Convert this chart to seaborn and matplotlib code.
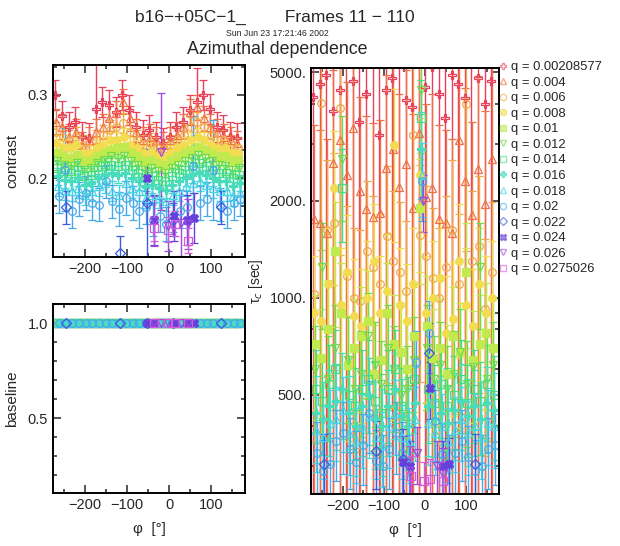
import numpy as np
import pandas as pd
import matplotlib
matplotlib.use("Agg")
import matplotlib.pyplot as plt
import seaborn as sns
from matplotlib.lines import Line2D
from matplotlib.ticker import MultipleLocator, FixedLocator, FixedFormatter, NullFormatter, LogLocator

nan = np.nan

# ---------------- data ----------------
phi = [-265, -249, -233, -217, -201, -185, -169, -153, -137, -121, -105, -89, -73, -57,
       -41, -25, -9, 7, 23, 39, 55, 71, 87, 103, 119, 135, 151, 167]

q_labels = ["0.00208577", "0.004", "0.006", "0.008", "0.01", "0.012", "0.014",
            "0.016", "0.018", "0.02", "0.022", "0.024", "0.026", "0.0275026"]

contrast_q0 = [0.300, 0.275, 0.262, 0.268, 0.250, 0.248, 0.283, 0.292, 0.288, 0.280, 0.300, 0.282, 0.262, 0.252,
               0.258, 0.250, 0.242, 0.250, 0.262, 0.268, 0.282, 0.292, 0.300, 0.283, 0.262, 0.258, 0.250, 0.248]
contrast_q1 = [0.268, 0.262, 0.250, 0.256, 0.240, 0.246, 0.256, 0.262, 0.272, 0.278, 0.292, 0.272, 0.256, 0.246,
               0.250, 0.246, 0.240, 0.246, 0.252, 0.262, 0.280, 0.285, 0.272, 0.262, 0.256, 0.250, 0.246, 0.242]
contrast_q2 = [0.255, 0.250, 0.246, 0.250, 0.240, 0.236, 0.246, 0.252, 0.258, 0.262, 0.266, 0.256, 0.246, 0.240,
               0.242, 0.236, 0.235, 0.240, 0.246, 0.252, 0.262, 0.268, 0.262, 0.252, 0.246, 0.246, 0.240, 0.236]
contrast_q3 = [0.242, 0.238, 0.236, 0.240, 0.230, 0.230, 0.236, 0.240, 0.246, 0.246, 0.250, 0.240, 0.236, 0.230,
               0.232, 0.226, 0.226, 0.230, 0.236, 0.240, 0.246, 0.250, 0.246, 0.240, 0.236, 0.236, 0.230, 0.230]
contrast_q4 = [0.230, 0.226, 0.224, 0.228, 0.220, 0.222, 0.226, 0.230, 0.234, 0.236, 0.238, 0.230, 0.226, 0.220,
               0.222, 0.218, 0.216, 0.222, 0.226, 0.230, 0.234, 0.238, 0.234, 0.230, 0.226, 0.226, 0.220, 0.222]
contrast_q5 = [0.220, 0.216, 0.214, 0.218, 0.210, 0.212, 0.218, 0.222, 0.226, 0.224, 0.226, 0.220, 0.216, 0.210,
               0.212, 0.208, 0.206, 0.212, 0.216, 0.220, 0.224, 0.228, 0.224, 0.220, 0.216, 0.214, 0.210, 0.212]
contrast_q6 = [0.212, 0.208, 0.206, 0.210, 0.202, 0.204, 0.210, 0.214, 0.216, 0.214, 0.216, 0.210, 0.206, 0.200,
               0.202, 0.198, 0.196, 0.202, 0.206, 0.210, 0.214, 0.218, 0.214, 0.210, 0.206, 0.206, 0.200, 0.204]
contrast_q7 = [0.202, 0.198, 0.196, 0.200, 0.192, 0.194, 0.200, 0.204, 0.206, 0.204, 0.206, 0.200, 0.196, 0.190,
               0.192, 0.188, 0.186, 0.192, 0.196, 0.200, 0.204, 0.206, 0.204, 0.200, 0.196, 0.196, 0.190, 0.194]
contrast_q8 = [0.190, 0.186, 0.184, 0.188, 0.180, 0.184, 0.190, 0.194, 0.184, 0.180, 0.194, 0.188, 0.184, 0.176,
               0.180, 0.176, 0.172, 0.180, 0.184, 0.190, 0.194, 0.196, 0.192, 0.188, 0.184, 0.184, 0.178, 0.182]
contrast_q9 = [0.178, 0.210, 0.160, 0.175, 0.182, 0.170, 0.168, 0.196, 0.172, 0.163, 0.176, 0.170, 0.160, 0.165,
               0.150, 0.155, 0.145, 0.155, 0.160, 0.165, 0.215, 0.170, 0.175, 0.210, 0.168, 0.160, 0.170, 0.175]
contrast_q10 = [nan, 0.165, nan, nan, nan, nan, nan, nan, nan, 0.110, nan, nan, nan, 0.170,
                nan, nan, nan, 0.150, nan, nan, nan, nan, nan, nan, 0.165, nan, nan, nan]
contrast_q11 = [nan, nan, nan, nan, nan, nan, nan, nan, nan, nan, nan, nan, nan, 0.200,
                0.150, nan, nan, 0.155, nan, 0.150, 0.152, nan, nan, nan, nan, nan, nan, nan]
contrast_q12 = [nan, nan, nan, nan, nan, nan, nan, nan, nan, nan, nan, nan, nan, nan,
                0.148, 0.232, 0.142, nan, 0.146, 0.145, nan, nan, nan, nan, nan, nan, nan, nan]
contrast_q13 = [nan, nan, nan, nan, nan, nan, nan, nan, nan, nan, nan, nan, nan, nan,
                0.140, nan, 0.138, 0.145, nan, 0.125, nan, nan, nan, nan, nan, nan, nan, nan]

tau_q0 = [4200, 4600, 4900, 3800, 4400, 5600, 4700, 3500, 4300, 5800, 3200, 4400, 4800, 5500,
          4100, 3900, 6000, 4500, 5200, 4300, 3600, 4900, 4600, 4150, 5300, 4800, 4000, 4700]
tau_q1 = [1760, 1700, 1590, 2610, 3080, 2400, 3350, 2150, 1880, 1780, 1830, 2520, 2900, 2200,
          2600, 1900, 3250, 2050, 2190, 1760, 1700, 1590, 3080, 2300, 1800, 2500, 1950, 2700]
tau_q2 = [1030, 4030, 1620, 1700, 3890, 1170, 1000, 980, 1400, 1250, 1100, 1550, 1300, 1200,
          1050, 3200, 1560, 1350, 1150, 1000, 1250, 1620, 1100, 4000, 1300, 1450, 920, 1200]
tau_q3 = [900, 850, 1100, 2190, 950, 1200, 880, 820, 1000, 1300, 900, 1050, 2970, 950,
          850, 1100, 2400, 900, 1000, 1150, 780, 860, 1300, 950, 820, 1100, 900, 1000]
tau_q4 = [720, 650, 800, 1400, 900, 620, 700, 760, 850, 580, 640, 900, 720, 680,
          600, 760, 1900, 820, 650, 700, 580, 760, 680, 1200, 640, 720, 780, 700]
tau_q5 = [600, 1250, 560, 700, 2700, 640, 520, 580, 760, 620, 540, 700, 600, 500,
          520, 640, 4400, 700, 560, 620, 520, 580, 680, 540, 610, 1250, 560, 620]
tau_q6 = [520, 480, 540, 600, 2190, 500, 460, 520, 560, 480, 440, 520, 600, 460,
          430, 560, 3600, 520, 470, 540, 460, 500, 560, 470, 520, 480, 540, 500]
tau_q7 = [440, 420, 460, 480, 520, 440, 400, 460, 500, 420, 400, 460, 520, 430,
          400, 470, 2900, 460, 420, 440, 410, 450, 480, 430, 460, 420, 470, 450]
tau_q8 = [390, 370, 410, 420, 450, 380, 360, 400, 430, 370, 350, 400, 440, 370,
          360, 420, 2400, 410, 380, 400, 360, 390, 420, 380, 400, 370, 410, 400]
tau_q9 = [330, 290, 305, 360, 380, 340, 310, 350, 440, 312, 300, 340, 380, 330,
          300, 630, 2300, 780, 415, 328, 300, 330, 360, 320, 290, 300, 340, 350]
tau_q10 = [nan, 305, nan, nan, nan, nan, nan, nan, nan, 335, nan, nan, nan, 316,
           nan, nan, nan, 675, nan, nan, nan, nan, nan, nan, 305, nan, nan, nan]
tau_q11 = [nan, nan, nan, nan, nan, nan, nan, nan, nan, nan, nan, nan, nan, 310,
           300, nan, nan, 525, nan, 300, 305, nan, nan, nan, nan, nan, nan, nan]
tau_q12 = [nan, nan, nan, nan, nan, nan, nan, nan, nan, nan, nan, nan, nan, nan,
           290, 330, 2000, nan, 300, 285, nan, nan, nan, nan, nan, nan, nan, nan]
tau_q13 = [nan, nan, nan, nan, nan, nan, nan, nan, nan, nan, nan, nan, nan, nan,
           280, nan, 270, 275, nan, 270, nan, nan, nan, nan, nan, nan, nan, nan]

baseline = [1.000, 0.999, 1.001, 1.000, 0.999, 1.000, 1.001, 1.000, 0.999, 1.000, 1.000, 1.001, 0.999, 1.000,
            1.000, 0.999, 1.000, 1.001, 1.000, 0.999, 1.000, 1.000, 1.001, 1.000, 0.999, 1.000, 1.000, 1.001]

contrast_err = [0.018, 0.015, 0.012, 0.010, 0.010, 0.010, 0.010, 0.010, 0.012, 0.020, 0.020, 0.030, 0.030, 0.015]
contrast_big_err = {(0, 6): 0.06, (0, 21): 0.04, (9, 1): 0.05, (9, 20): 0.06, (9, 23): 0.06,
                    (10, 13): 0.065, (12, 15): 0.07, (12, 18): 0.04}
tau_relerr = [1.3, 0.95, 0.65, 0.5, 0.42, 0.36, 0.32, 0.3, 0.26, 0.25, 0.24, 0.2, 0.2, 0.15]

contrast_all = [contrast_q0, contrast_q1, contrast_q2, contrast_q3, contrast_q4, contrast_q5, contrast_q6,
                contrast_q7, contrast_q8, contrast_q9, contrast_q10, contrast_q11, contrast_q12, contrast_q13]
tau_all = [tau_q0, tau_q1, tau_q2, tau_q3, tau_q4, tau_q5, tau_q6,
           tau_q7, tau_q8, tau_q9, tau_q10, tau_q11, tau_q12, tau_q13]

# ---------------- style ----------------
colors = sns.color_palette(["#e8405a", "#f07048", "#f0a848", "#f2dc50", "#c0ea50", "#70dc48", "#48dc80",
                            "#48dcbc", "#48d4e4", "#48a8ea", "#3c5cdc", "#6640dc", "#a048dc", "#d858dc"])
markers = ["P", "^", "o", "o", "s", "v", "s", "P", "^", "o", "D", "X", "v", "s"]
filled = [False, False, False, True, True, False, False, True, False, False, False, True, False, False]
dodge = np.linspace(-6, 6, 14)

rows = []
for i in range(14):
    for j, p in enumerate(phi):
        rows.append(dict(series=i, phi=p, contrast=contrast_all[i][j], tau=tau_all[i][j],
                         baseline=baseline[j],
                         cerr=contrast_big_err.get((i, j), contrast_err[i])))
df = pd.DataFrame(rows)

sns.set_style("ticks")
plt.rcParams["font.family"] = ["Liberation Sans", "DejaVu Sans"]
plt.rcParams["axes.linewidth"] = 1.4

fig = plt.figure(figsize=(6.2, 5.46), dpi=100)
ax1 = fig.add_axes([0.0855, 0.529, 0.3095, 0.352])
ax2 = fig.add_axes([0.0855, 0.097, 0.3095, 0.346])
ax3 = fig.add_axes([0.502, 0.095, 0.303, 0.78])

for i in range(14):
    d = df[df.series == i]
    d_c = d.dropna(subset=["contrast"])
    x = d_c.phi + dodge[i]
    c = colors[i]
    mfc = c if filled[i] else "none"
    kw = dict(fmt=markers[i], color=c, mec=c, mfc=mfc, ms=5.5, mew=0.9,
              elinewidth=1.0, capsize=2.6, capthick=1.0, ls="none")
    ax1.errorbar(x, d_c.contrast, yerr=d_c.cerr, **kw)
    ax2.errorbar(x, d_c.baseline, yerr=0.004, **kw)
    d_t = d.dropna(subset=["tau"])
    xt = d_t.phi + dodge[i]
    err = d_t.tau * tau_relerr[i]
    low = np.minimum(err, d_t.tau - 1)
    ax3.errorbar(xt, d_t.tau, yerr=[low, err], **kw)

tick_kw = dict(direction="in", top=True, right=True, labelsize=10.5, width=1.1)
for ax in (ax1, ax2, ax3):
    ax.set_xlim(-276, 180)
    ax.xaxis.set_major_locator(FixedLocator([-200, -100, 0, 100]))
    ax.xaxis.set_minor_locator(MultipleLocator(50))
    ax.tick_params(which="major", length=6, **tick_kw)
    ax.tick_params(which="minor", length=3, **tick_kw)
    for s in ax.spines.values():
        s.set_color("black")
    ax.set_xticklabels(["\u2212200", "\u2212100", "0", "100"])

ax1.set_ylim(0.105, 0.336)
ax1.yaxis.set_major_locator(FixedLocator([0.2, 0.3]))
ax1.yaxis.set_minor_locator(MultipleLocator(0.1 / 3))
ax1.set_yticklabels(["0.2", "0.3"])
ax1.set_ylabel("contrast", fontsize=11, labelpad=6)

ax2.set_ylim(0.105, 1.1)
ax2.yaxis.set_major_locator(FixedLocator([0.5, 1.0]))
ax2.yaxis.set_minor_locator(MultipleLocator(0.1))
ax2.set_yticklabels(["0.5", "1.0"])
ax2.set_ylabel("baseline", fontsize=11, labelpad=6)
ax2.set_xlabel("\u03c6  [\u00b0]", fontsize=11, labelpad=7)

ax3.set_yscale("log")
ax3.set_ylim(246, 5150)
ax3.yaxis.set_major_locator(FixedLocator([500, 1000, 2000, 5000]))
ax3.yaxis.set_major_formatter(FixedFormatter(["500.", "1000.", "2000.", "5000."]))
ax3.yaxis.set_minor_locator(LogLocator(subs=(3, 4, 6, 7, 8, 9)))
ax3.yaxis.set_minor_formatter(NullFormatter())
ax3.set_ylabel("\u03c4$_c$ [sec]", fontsize=10)
ax3.yaxis.set_label_coords(-0.245, 0.5)
ax3.set_xlabel("\u03c6  [\u00b0]", fontsize=11, labelpad=7)

# titles
fig.text(0.443, 0.968, "b16\u2212+05C\u22121_        Frames 11 \u2212 110", ha="center", va="center", fontsize=12.5)
fig.text(0.447, 0.939, "Sun Jun 23 17:21:46 2002", ha="center", va="center", fontsize=6.3)
fig.text(0.447, 0.910, "Azimuthal dependence", ha="center", va="center", fontsize=12.8)

# legend
handles = [Line2D([], [], marker=markers[i], color=colors[i], mec=colors[i],
                  mfc=colors[i] if filled[i] else "none", ls="none", ms=4.5, mew=1.0, alpha=0.6)
           for i in range(14)]
fig.legend(handles, ["q = " + q for q in q_labels], loc="upper left", bbox_to_anchor=(0.802, 0.888),
           frameon=False, fontsize=9.4, handletextpad=0.15, labelspacing=0.26, borderaxespad=0,
           handlelength=0.9, borderpad=0)

fig.savefig("out.png", dpi=100)
